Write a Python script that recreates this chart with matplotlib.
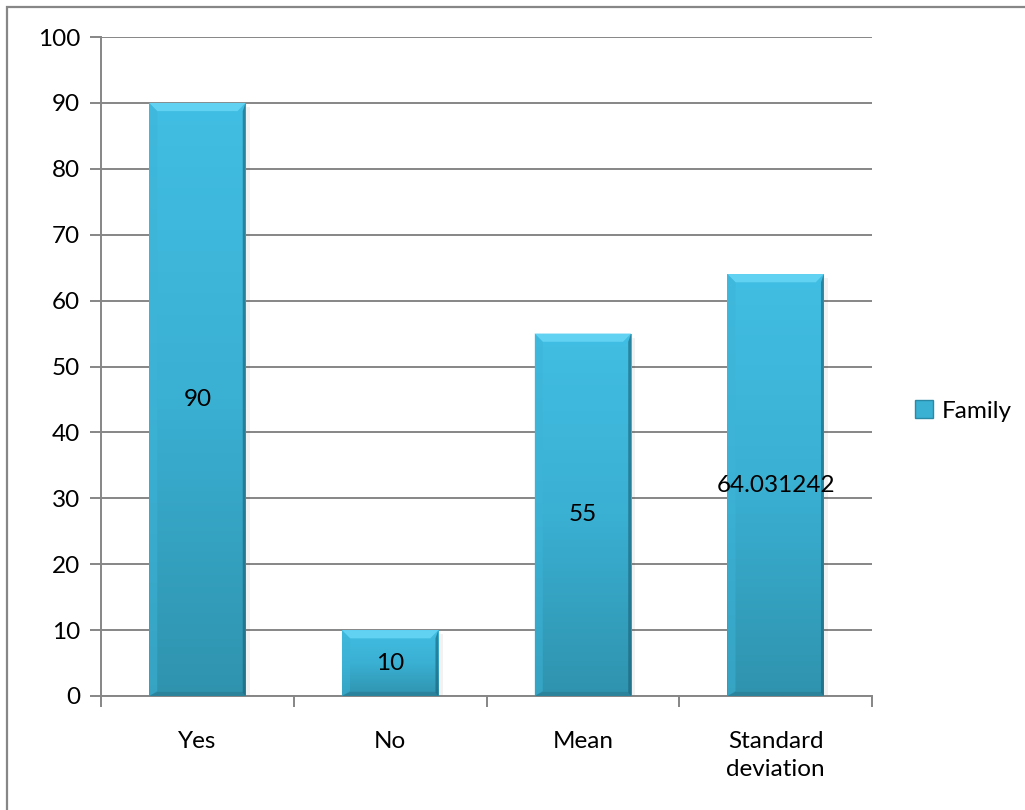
import matplotlib
matplotlib.use("Agg")
import matplotlib.pyplot as plt
import numpy as np
from matplotlib.patches import Polygon, Rectangle, Patch
from matplotlib.colors import LinearSegmentedColormap

plt.rcParams['font.family'] = ['Lato', 'DejaVu Sans']

categories = ["Yes", "No", "Mean", "Standard\ndeviation"]
values = [90, 10, 55, 64.031242]
labels = ["90", "10", "55", "64.031242"]
series_name = "Family"
yticks = [0, 10, 20, 30, 40, 50, 60, 70, 80, 90, 100]

W, H = 1025, 810
FS = 17.5
fig = plt.figure(figsize=(W / 100, H / 100), dpi=100)
ax = fig.add_axes([101 / W, 1 - 696 / H, (872 - 101) / W, (696 - 37) / H])

grid_c = "#868686"
x = np.arange(len(categories))
bars = ax.bar(x, values, width=0.5, color="#3AAFD3", zorder=3, linewidth=0)

cmap = LinearSegmentedColormap.from_list("g", ["#2F93AE", "#3AB0D3", "#41BEE3"])
grad = np.linspace(0, 1, 256).reshape(-1, 1)

bx = 0.042  # bevel width in data x
by = 1.25   # bevel height in data y
for b in bars:
    x0, w, h = b.get_x(), b.get_width(), b.get_height()
    x1 = x0 + w
    im = ax.imshow(grad, extent=[x0, x1, 0, h], origin="lower", cmap=cmap,
                   aspect="auto", zorder=4)
    im.set_clip_path(b)
    # top bevel (light)
    ax.add_patch(Polygon([[x0, h], [x1, h], [x1 - bx, h - by], [x0 + bx, h - by]],
                         closed=True, facecolor="#62D2F2", edgecolor="none", zorder=5))
    # left bevel
    ax.add_patch(Polygon([[x0, h], [x0 + bx, h - by], [x0 + bx, by * 0.6], [x0, 0]],
                         closed=True, facecolor="#3DB4D8", edgecolor="none", alpha=0.5, zorder=5))
    # right bevel (dark, thin)
    ax.add_patch(Polygon([[x1, h], [x1 - bx * 0.35, h - by], [x1 - bx * 0.35, by * 0.4], [x1, 0]],
                         closed=True, facecolor="#1A5F73", edgecolor="none", alpha=0.6, zorder=5))
    # bottom bevel
    ax.add_patch(Polygon([[x0, 0], [x1, 0], [x1 - bx * 0.35, by * 0.5], [x0 + bx, by * 0.5]],
                         closed=True, facecolor="#266F85", edgecolor="none", alpha=0.45, zorder=5))
    # soft shadow at right
    ax.add_patch(Rectangle((x1, 0), 0.022, h - by * 0.5, facecolor="#000000",
                           alpha=0.05, edgecolor="none", zorder=2.5))

for b, lab in zip(bars, labels):
    ax.text(b.get_x() + b.get_width() / 2, b.get_height() / 2, lab,
            ha="center", va="center", fontsize=FS, color="black", zorder=6)

ax.set_xlim(-0.5, len(categories) - 0.5)
ax.set_ylim(0, 100)
ax.set_yticks(yticks)
ax.set_yticklabels([str(t) for t in yticks], fontsize=FS)
ax.yaxis.grid(True, color=grid_c, linewidth=1.4, zorder=1)
ax.set_axisbelow(True)

ax.set_xticks(np.arange(-0.5, len(categories), 1.0))
ax.set_xticklabels([])
ax.set_xticks(x, minor=True)
ax.set_xticklabels(categories, minor=True, fontsize=FS, linespacing=1.45)
ax.tick_params(axis="x", which="major", length=8, width=1.4, color=grid_c, direction="out")
ax.tick_params(axis="x", which="minor", length=0, pad=25)
ax.tick_params(axis="y", length=8, width=1.4, color=grid_c, pad=7)

for s in ["top", "right"]:
    ax.spines[s].set_visible(False)
for s in ["left", "bottom"]:
    ax.spines[s].set_color(grid_c)
    ax.spines[s].set_linewidth(1.4)

handle = Patch(facecolor="#3AB0D3", edgecolor="#2A8AA5", linewidth=1.0)
fig.legend([handle], [series_name], loc="center left",
           bbox_to_anchor=(893 / W, 1 - 411 / H), frameon=False, fontsize=FS,
           handlelength=0.75, handleheight=0.75, handletextpad=0.35)

# outer chart border (extends beyond right and bottom edges)
fig.add_artist(Rectangle((7 / W, -0.05), 1.1, 1 - 7 / H + 0.05, transform=fig.transFigure,
                         fill=False, edgecolor="#878787", linewidth=1.6))

fig.savefig("out.png", dpi=100)
